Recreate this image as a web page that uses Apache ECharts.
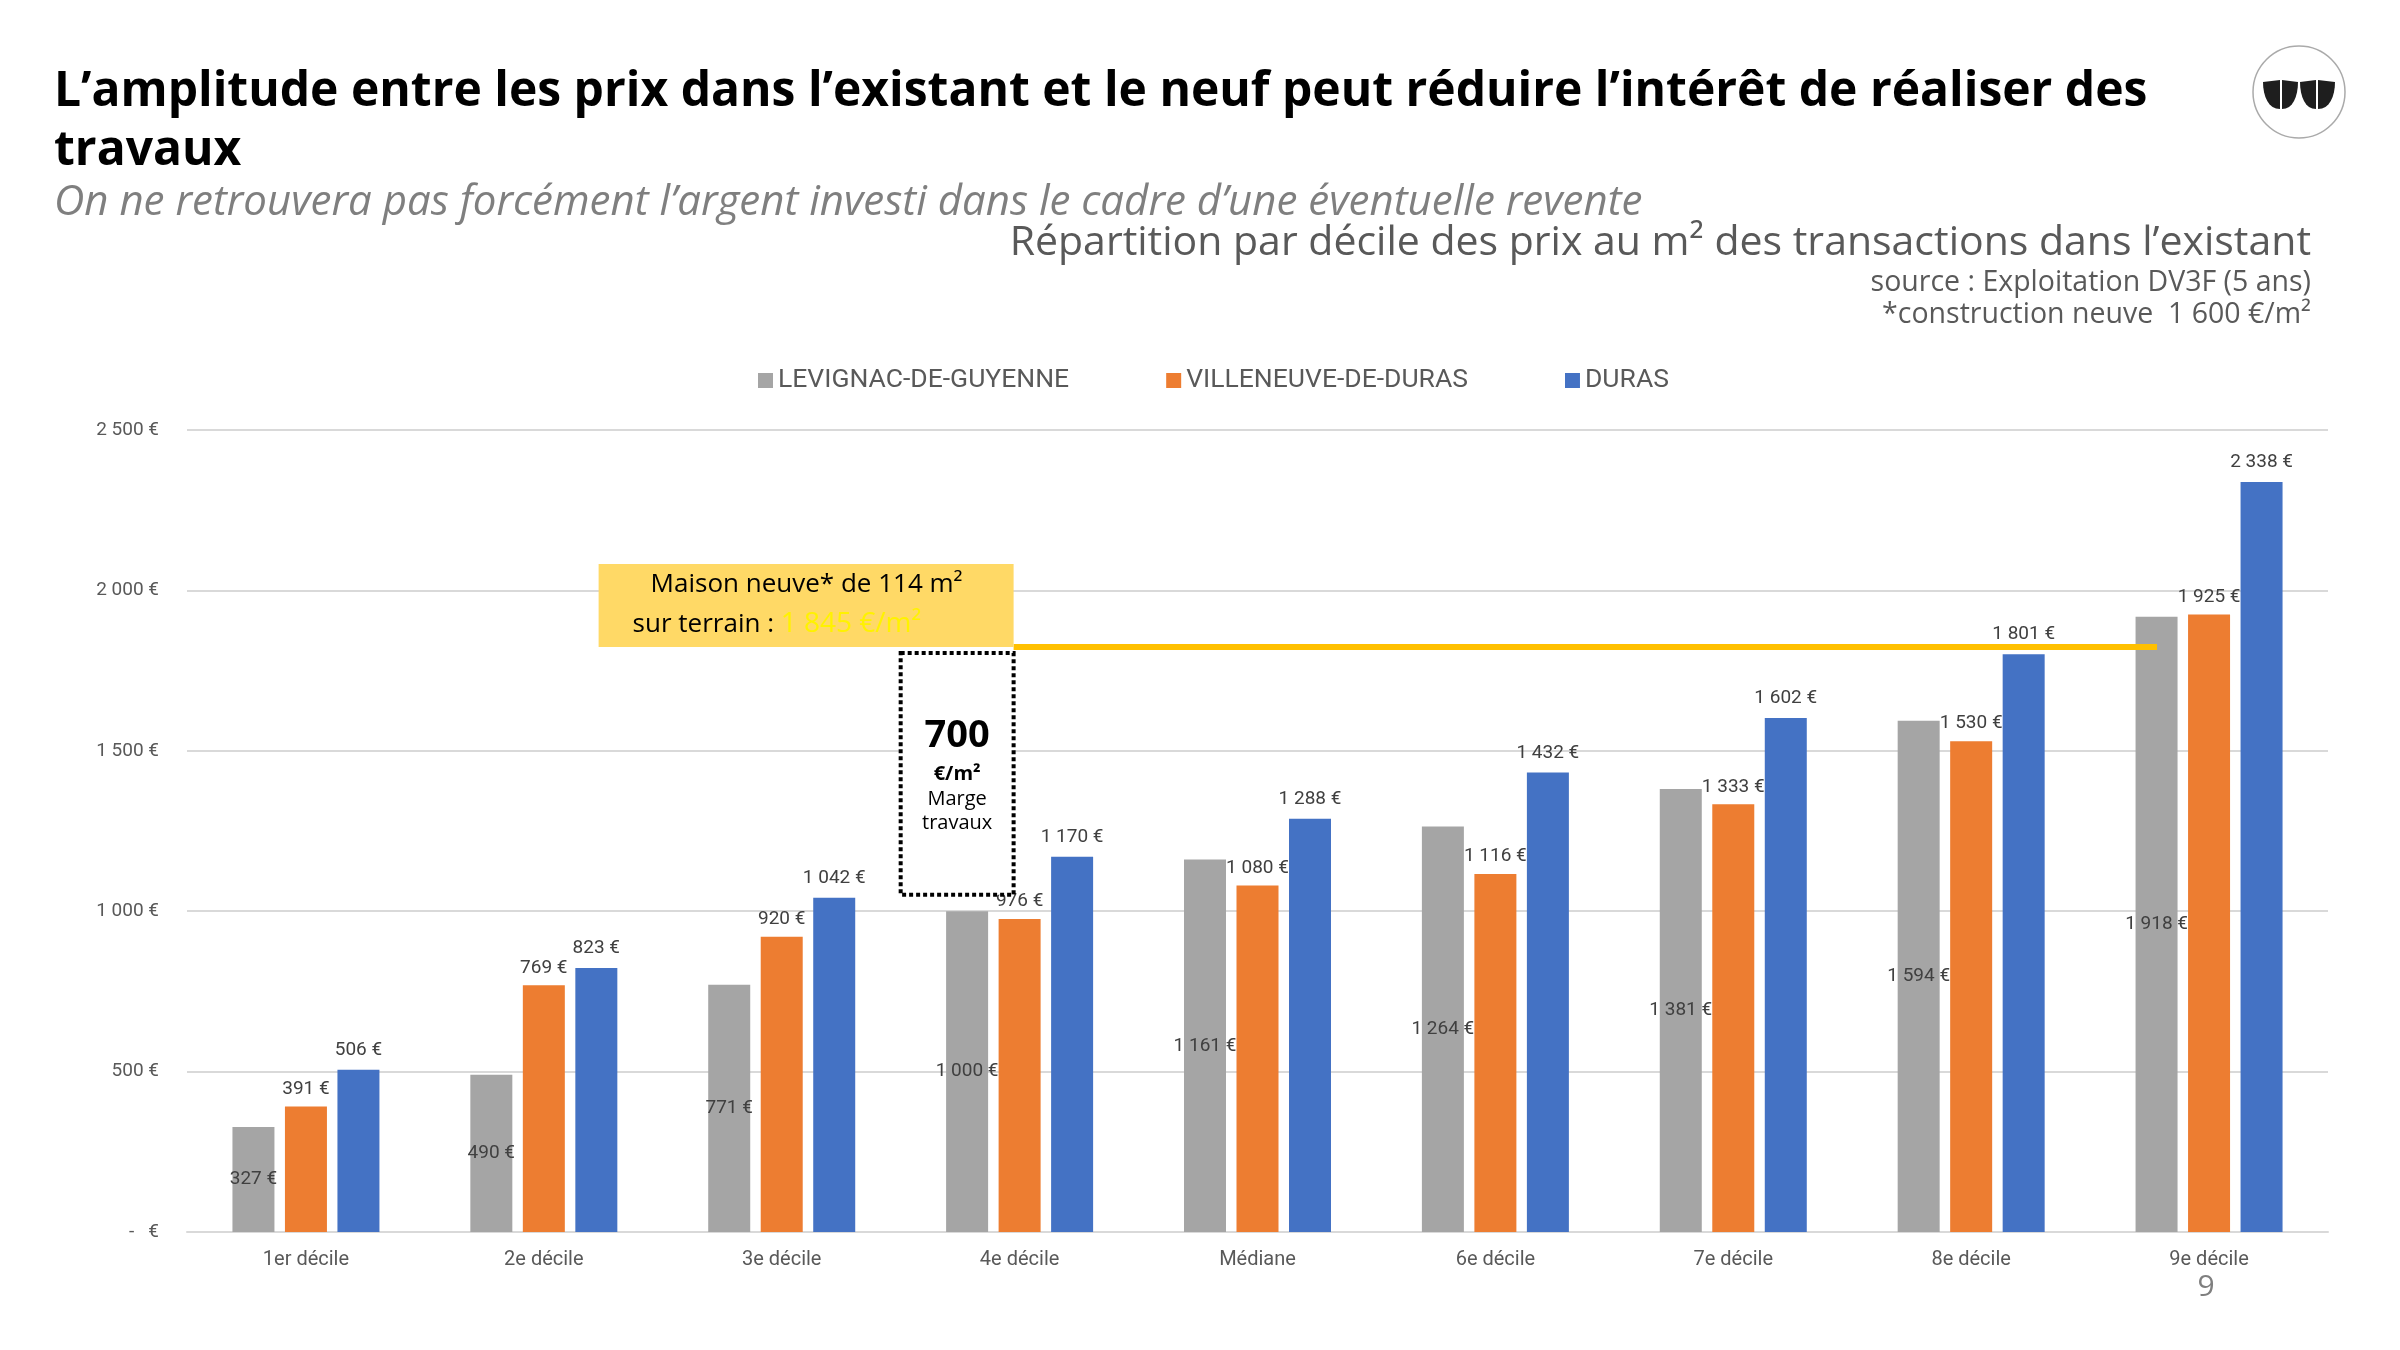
<!DOCTYPE html>
<html>
<head>
<meta charset="utf-8">
<script src="https://cdn.jsdelivr.net/npm/echarts@6/dist/echarts.min.js"></script>
<style>
  html, body { margin: 0; padding: 0; background: #fff; }
  #chart { width: 2400px; height: 1350px; }
</style>
</head>
<body>
<div id="chart"></div>
<script>
// deciles des prix au m2 (DV3F, 5 ans)
const categories = ['1er décile', '2e décile', '3e décile', '4e décile', 'Médiane', '6e décile', '7e décile', '8e décile', '9e décile'];
const levignac   = [327, 490, 771, 1000, 1161, 1264, 1381, 1594, 1918];
const villeneuve = [391, 769, 920, 976, 1080, 1116, 1333, 1530, 1925];
const duras      = [506, 823, 1042, 1170, 1288, 1432, 1602, 1801, 2338];
const seriesNames = ['LEVIGNAC-DE-GUYENNE', 'VILLENEUVE-DE-DURAS', 'DURAS'];
const yTicks = [0, 500, 1000, 1500, 2000, 2500];
const prixNeuf = 1845;
const margeTravaux = 700;

const narrow = '"Liberation Sans Narrow", "Roboto", sans-serif';
const geo = '"Open Sans", Lato, sans-serif';

const euro = v => v === 0 ? '-   €' : String(v).replace(/\B(?=(\d{3})+(?!\d))/g, ' ') + ' €';

const chart = echarts.init(document.getElementById('chart'));

const labelStyle = {
    show: true,
    color: '#404040',
    fontFamily: narrow,
    fontSize: 19,
    formatter: p => euro(p.value)
};

const option = {
    animation: false,
    backgroundColor: '#fff',
    grid: { left: 187, right: 72, top: 430, bottom: 118 },
    legend: {
        left: 753,
        top: 362,
        itemWidth: 15,
        itemHeight: 15,
        itemGap: 97,
        icon: 'rect',
        textStyle: { color: '#595959', fontFamily: narrow, fontSize: 26.5 },
        data: seriesNames
    },
    xAxis: {
        type: 'category',
        data: categories,
        axisTick: { show: false },
        axisLine: { lineStyle: { color: '#D9D9D9', width: 2 } },
        axisLabel: { color: '#595959', fontFamily: narrow, fontSize: 20, margin: 18 }
    },
    yAxis: {
        type: 'value',
        min: yTicks[0],
        max: yTicks[yTicks.length - 1],
        interval: yTicks[1] - yTicks[0],
        axisLine: { show: false },
        axisTick: { show: false },
        splitLine: { lineStyle: { color: '#D9D9D9', width: 2 } },
        axisLabel: { color: '#595959', fontFamily: narrow, fontSize: 19, margin: 28, formatter: euro }
    },
    series: [
        {
            name: seriesNames[0], type: 'bar', data: levignac,
            barWidth: 42, barGap: '25%',
            itemStyle: { color: '#A5A5A5' },
            label: Object.assign({}, labelStyle, { position: 'inside' })
        },
        {
            name: seriesNames[1], type: 'bar', data: villeneuve,
            barWidth: 42, barGap: '25%',
            itemStyle: { color: '#ED7D31' },
            label: Object.assign({}, labelStyle, { position: 'top', distance: 8 })
        },
        {
            name: seriesNames[2], type: 'bar', data: duras,
            barWidth: 42, barGap: '25%',
            itemStyle: { color: '#4472C4' },
            label: Object.assign({}, labelStyle, { position: 'top', distance: 10 })
        }
    ]
};

chart.setOption(option);

// annotations placed from the axes
const xc4   = chart.convertToPixel({ xAxisIndex: 0 }, categories[3]);
const xc9   = chart.convertToPixel({ xAxisIndex: 0 }, categories[8]);
const band  = chart.convertToPixel({ xAxisIndex: 0 }, categories[1]) - chart.convertToPixel({ xAxisIndex: 0 }, categories[0]);
const yNeuf = chart.convertToPixel({ yAxisIndex: 0 }, prixNeuf) + 7;
const yBas  = chart.convertToPixel({ yAxisIndex: 0 }, prixNeuf - margeTravaux);

const boxRight = xc4 - 6;
const dotLeft  = xc4 - band / 2;
const dotTop   = yNeuf + 6;
const dotBot   = yBas + 30;
const dotMid   = (dotLeft + boxRight) / 2;

// logo feuilles : flat top, one straight side, one curved side
const lx = 2299, ly = 94;
function leaf(x0, x1, flip) {
    const pts = [];
    const top = ly - 13, bot = ly + 15;
    const sx = flip ? x0 : x1, cx = flip ? x1 : x0;
    pts.push([sx, top - 1], [cx, top + 1]);
    for (let i = 1; i <= 8; i++) {
        const t = i / 8;
        const bx = cx + (sx - cx) * t * t;
        const by = top + 1 + (bot - top - 1) * Math.sin(t * Math.PI / 2);
        pts.push([bx, by]);
    }
    return pts;
}

chart.setOption({
    graphic: [
        { type: 'text', x: 54, y: 92, style: { text: 'L’amplitude entre les prix dans l’existant et le neuf peut réduire l’intérêt de réaliser des', fill: '#000', font: 'bold 48px ' + geo, verticalAlign: 'middle' } },
        { type: 'text', x: 54, y: 151, style: { text: 'travaux', fill: '#000', font: 'bold 48px ' + geo, verticalAlign: 'middle' } },
        { type: 'text', x: 54, y: 203, style: { text: 'On ne retrouvera pas forcément l’argent investi dans le cadre d’une éventuelle revente', fill: '#7F7F7F', font: 'italic 42px ' + geo, verticalAlign: 'middle' } },
        { type: 'text', x: 2311, y: 243, style: { text: 'Répartition par décile des prix au m² des transactions dans l’existant', fill: '#595959', font: '41px ' + geo, align: 'right', verticalAlign: 'middle' } },
        { type: 'text', x: 2311, y: 283, style: { text: 'source : Exploitation DV3F (5 ans)', fill: '#595959', font: '28.5px ' + geo, align: 'right', verticalAlign: 'middle' } },
        { type: 'text', x: 2311, y: 315, style: { text: '*construction neuve  1 600 €/m²', fill: '#595959', font: '28.5px ' + geo, align: 'right', verticalAlign: 'middle' } },
        { type: 'text', x: 2206, y: 1287, style: { text: '9', fill: '#7F7F7F', font: '30px ' + geo, align: 'center', verticalAlign: 'middle' } },

        // logo
        { type: 'circle', shape: { cx: lx, cy: ly - 2, r: 46 }, style: { fill: '#fff', stroke: '#AAAAAA', lineWidth: 1.5 } },
        { type: 'polygon', shape: { points: leaf(lx - 36, lx - 19, false) }, style: { fill: '#1E1E1E' } },
        { type: 'polygon', shape: { points: leaf(lx - 17, lx - 1, true) }, style: { fill: '#1E1E1E' } },
        { type: 'polygon', shape: { points: leaf(lx + 1, lx + 17, false) }, style: { fill: '#1E1E1E' } },
        { type: 'polygon', shape: { points: leaf(lx + 19, lx + 36, true) }, style: { fill: '#1E1E1E' } },

        // ligne prix du neuf
        { type: 'line', z: 10, shape: { x1: boxRight, y1: yNeuf, x2: xc9 - 52, y2: yNeuf }, style: { stroke: '#FFC000', lineWidth: 6 } },

        // encadre maison neuve
        { type: 'rect', z: 11, shape: { x: xc4 - 421, y: yNeuf - 83, width: 415, height: 83 }, style: { fill: '#FFD966' } },
        { type: 'text', z: 12, x: xc4 - 213, y: yNeuf - 63, style: { text: 'Maison neuve* de 114 m²', fill: '#000', font: '26px ' + geo, align: 'center', verticalAlign: 'middle' } },
        { type: 'text', z: 12, x: xc4 - 387, y: yNeuf - 23, style: {
            text: '{a|sur terrain : }{b|1 845 €/m²}', verticalAlign: 'middle',
            rich: {
                a: { fill: '#000', font: '26px ' + geo },
                b: { fill: '#FFF200', font: '28px ' + geo }
            }
        } },

        // marge travaux
        { type: 'rect', z: 11, shape: { x: dotLeft, y: dotTop, width: boxRight - dotLeft, height: dotBot - dotTop }, style: { fill: '#fff', stroke: '#000', lineWidth: 4, lineDash: [4, 3] } },
        { type: 'text', z: 12, x: dotMid, y: dotTop + 83, style: { text: String(margeTravaux), fill: '#000', font: 'bold 38px ' + geo, align: 'center', verticalAlign: 'middle' } },
        { type: 'text', z: 12, x: dotMid, y: dotTop + 121, style: { text: '€/m²', fill: '#000', font: 'bold 20px ' + geo, align: 'center', verticalAlign: 'middle' } },
        { type: 'text', z: 12, x: dotMid, y: dotTop + 146, style: { text: 'Marge', fill: '#000', font: '20px ' + geo, align: 'center', verticalAlign: 'middle' } },
        { type: 'text', z: 12, x: dotMid, y: dotTop + 170, style: { text: 'travaux', fill: '#000', font: '20px ' + geo, align: 'center', verticalAlign: 'middle' } }
    ]
});
</script>
</body>
</html>
